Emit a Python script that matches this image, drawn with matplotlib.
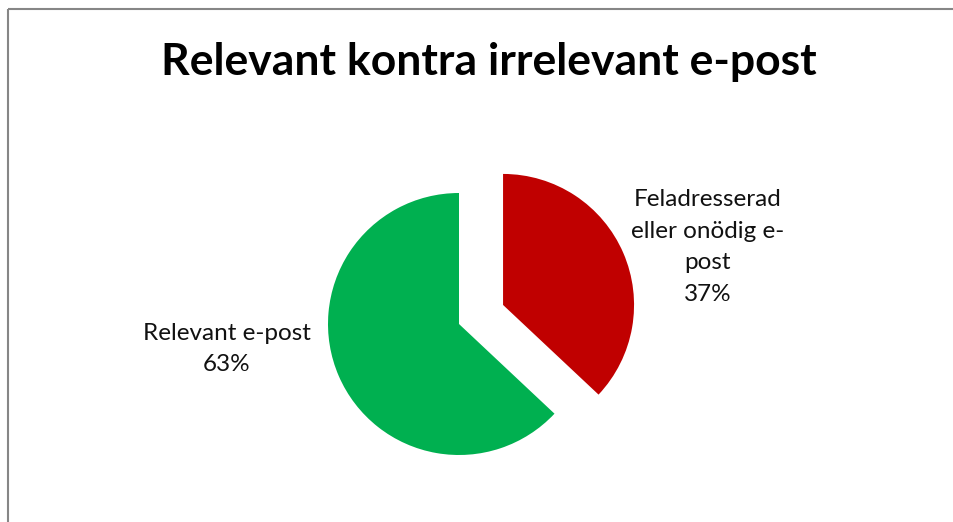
import matplotlib
matplotlib.use("Agg")
from matplotlib import pyplot as plt

# Data
labels = ["Feladresserad\neller onödig e-\npost", "Relevant e-post"]
values = [37, 63]
colors = ["#C00000", "#00B050"]
title = "Relevant kontra irrelevant e-post"

W, H = 954, 522
plt.rcParams["font.family"] = ["Lato", "DejaVu Sans"]
fig = plt.figure(figsize=(W / 100, H / 100), dpi=100)
ax = fig.add_axes([0, 0, 1, 1])

# chart frame (only top and left edges visible)
ax.plot([8.5, W + 5], [H - 9, H - 9], color="#868686", lw=1.5, solid_capstyle="butt")
ax.plot([8.5, 8.5], [H - 9, -5], color="#868686", lw=1.5, solid_capstyle="butt")

radius = 131
center = (459, H - 324)
ax.pie(values, colors=colors, startangle=90, counterclock=False,
       explode=[48, 0], radius=radius, center=center,
       frame=True, wedgeprops=dict(linewidth=0))
ax.set_xlim(0, W)
ax.set_ylim(0, H)
ax.set_aspect("equal")
ax.axis("off")

# labels with percentages
ax.text(708, H - 247, f"{labels[0]}\n{values[0]}%", ha="center", va="center",
        fontsize=17.5, linespacing=1.62, color="#111111")
ax.text(227, H - 349, f"{labels[1]}\n{values[1]}%", ha="center", va="center",
        fontsize=17.5, linespacing=1.62, color="#111111")

ax.text(489, H - 75, title, ha="center", va="baseline",
        fontsize=32, fontweight="bold", color="black")

fig.savefig("out.png", dpi=100)
